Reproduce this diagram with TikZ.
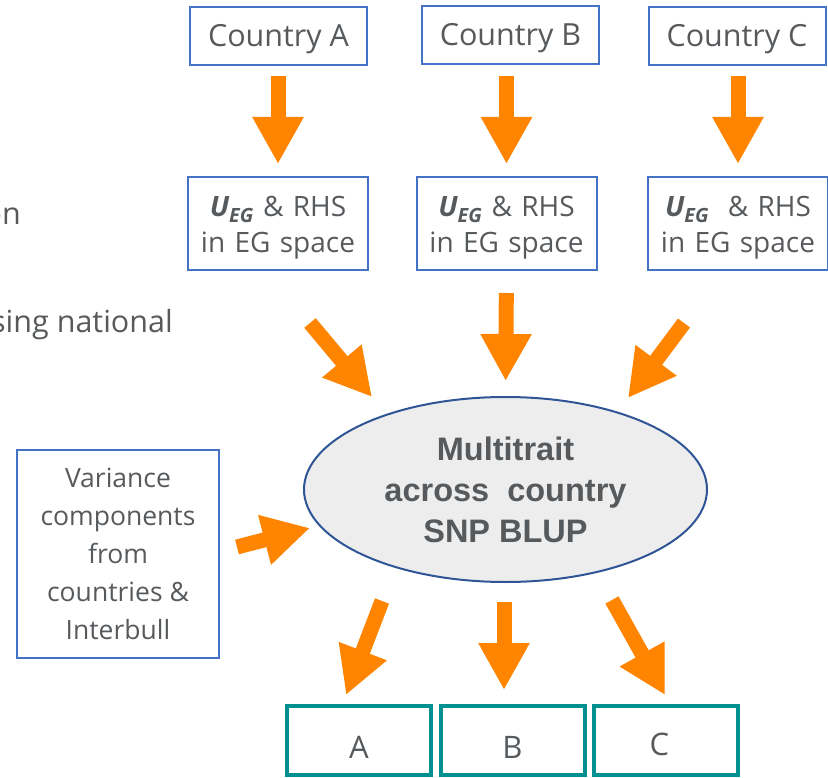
\documentclass[tikz,border=0pt]{standalone}
\usepackage{fontspec}
\setmainfont{Open Sans}
\newfontfamily\ellfont{Liberation Sans}
\usetikzlibrary{arrows.meta, shapes.geometric}

\definecolor{boxblue}{RGB}{68,114,196}
\definecolor{outteal}{RGB}{3,144,144}
\definecolor{arrorange}{RGB}{255,132,0}
\definecolor{ellfill}{RGB}{237,237,237}
\definecolor{elldraw}{RGB}{47,85,151}
\definecolor{txtgray}{RGB}{87,90,93}

\tikzset{
  countrybox/.style={draw=boxblue, line width=2pt, text=txtgray, inner sep=0pt,
    minimum width=177pt, minimum height=58pt, text height=22pt, text depth=1pt,
    font=\fontsize{30.5}{37}\selectfont},
  egbox/.style={draw=boxblue, line width=2pt, text=txtgray, inner sep=0pt, align=center,
    text width=172pt, text height=22pt, text depth=36pt,
    minimum width=180pt, minimum height=93pt, font=\fontsize{28}{36.5}\selectfont},
  varbox/.style={draw=boxblue, line width=2pt, text=txtgray, inner sep=0pt, align=center,
    minimum width=202pt, minimum height=208pt, font=\fontsize{26.5}{38}\selectfont},
  outbox/.style={draw=outteal, line width=4pt, text=txtgray, inner sep=0pt,
    minimum width=144pt, minimum height=69pt, text height=36pt, text depth=1pt,
    font=\fontsize{31}{36}\selectfont},
  snpblup/.style={ellipse, draw=elldraw, line width=2pt, fill=ellfill, text=txtgray,
    inner sep=0pt, align=center, minimum width=403pt, minimum height=185pt,
    font=\ellfont\bfseries\fontsize{32.5}{41}\selectfont},
  sidetxt/.style={text=txtgray, inner sep=0pt, font=\fontsize{30.5}{37}\selectfont},
  fatarrow/.style={draw=arrorange, line width=15pt, -{Triangle[length=47pt,width=48pt]}},
}

\begin{document}
\begin{tikzpicture}[x=1pt,y=1pt,yscale=-1,xscale=1]
    \useasboundingbox (0,0) rectangle (828,778);
    \clip (0,0) rectangle (828,778);

    % Text Node (cut at the left border)
    \node[sidetxt, anchor=base east] (cuton) at (21,225) {on};
    % Text Node (cut at the left border)
    \node[sidetxt, anchor=base east] (cutnat) at (173,333) {sing national};

    %Shape: Rectangle
    \node[countrybox] (cA) at (278.5,36.5) {Country A};
    \node[countrybox] (cB) at (510.5,35) {Country B};
    \node[countrybox] (cC) at (737,36.5) {Country C};

    %Shape: Rectangle
    \node[egbox] (uA) at (278,223.5) {{\bfseries\itshape U\textsubscript{EG}} \& RHS\\in EG space};
    \node[egbox] (uB) at (506.5,223.5) {{\bfseries\itshape U\textsubscript{EG}} \& RHS\\in EG space};
    \node[egbox] (uC) at (738,223.5) {{\bfseries\itshape U\textsubscript{EG}}\ \ \& RHS\\in EG space};

    %Shape: Ellipse
    \node[snpblup] (mt) at (505.5,489.5) {Multitrait\\across\ \ country\\SNP BLUP};

    %Shape: Rectangle
    \node[varbox] (vc) at (118,554) {Variance\\components\\from\\countries \&\\Interbull};

    %Shape: Rectangle
    \node[outbox] (oA) at (359,740.5) {A};
    \node[outbox] (oB) at (512.5,740.5) {B};
    \node[outbox, text height=30pt] (oC) at (665.5,740.5) {\hspace*{-12pt}C};

    % free ends of the block arrows
    \coordinate (inL0) at (310,323);
    \coordinate (inL1) at (372,397);
    \coordinate (inR0) at (684,323);
    \coordinate (inR1) at (628,398);
    \coordinate (inV0) at (237,547);
    \coordinate (inV1) at (310,528);
    \coordinate (outA0) at (382,601);
    \coordinate (outA1) at (346,695);
    \coordinate (outB0) at (504,602);
    \coordinate (outB1) at (504,690);
    \coordinate (outC0) at (612,600);
    \coordinate (outC1) at (665,695);

    %Shape: Down Arrow
    \draw[fatarrow, shorten <=9.5pt, shorten >=12pt] (uA |- cA.south) -- (uA.north);
    \draw[fatarrow, shorten <=11pt, shorten >=12pt] (uB |- cB.south) -- (uB.north);
    \draw[fatarrow, shorten <=9.5pt, shorten >=12pt] (uC |- cC.south) -- (uC.north);

    %Shape: Arrows into the model
    \draw[fatarrow] (inL0) -- (inL1);
    \draw[fatarrow, shorten <=22pt, shorten >=15pt] (uB.south) -- (mt.north);
    \draw[fatarrow] (inR0) -- (inR1);
    \draw[fatarrow] (inV0) -- (inV1);

    %Shape: Arrows out of the model
    \draw[fatarrow] (outA0) -- (outA1);
    \draw[fatarrow] (outB0) -- (outB1);
    \draw[fatarrow] (outC0) -- (outC1);

\end{tikzpicture}
\end{document}
